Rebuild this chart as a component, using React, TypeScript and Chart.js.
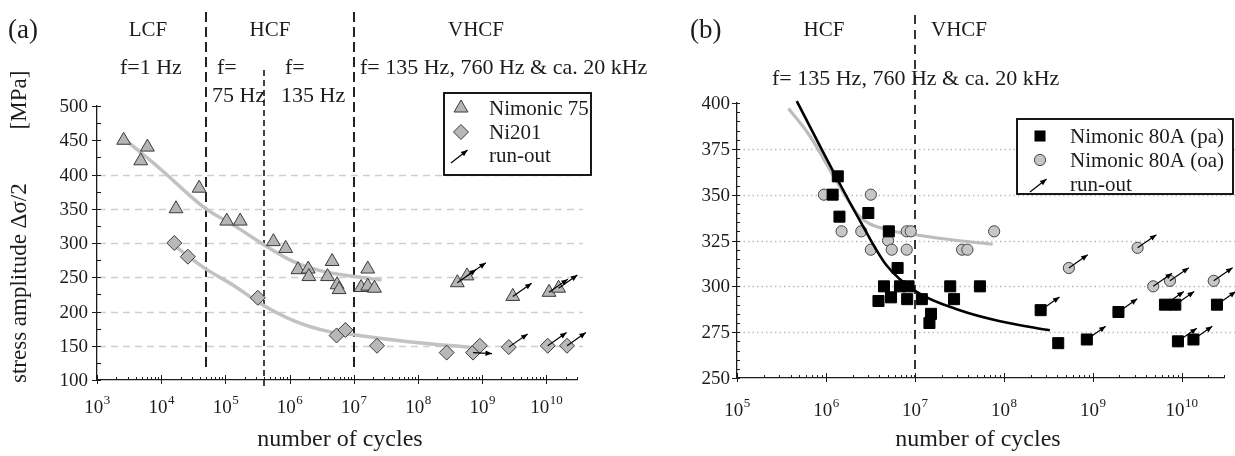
import React, { useEffect, useRef } from "react";
import { Chart, registerables } from "chart.js";

Chart.register(...registerables);

const FONT = '"Liberation Serif", "Times New Roman", "DejaVu Serif", serif';

// ================= Panel (a): Nimonic 75 and Ni201 =================
const A_N75_CYCLES = [2.6e3, 4.8e3, 6.1e3, 1.7e4, 3.9e4, 1.05e5, 1.7e5, 5.6e5, 8.7e5, 1.35e6, 1.95e6, 2.0e6, 3.9e6, 4.6e6, 5.5e6, 5.9e6, 1.3e7, 1.65e7, 1.65e7, 2.1e7, 4.1e8, 5.8e8, 3.0e9, 1.1e10, 1.55e10];
const A_N75_STRESS = [450, 420, 440, 350, 380, 332, 332, 302, 292, 261, 262, 251, 251, 273, 239, 232, 235, 262, 237, 234, 242, 252, 222, 228, 234];
const A_N75_RUNOUT = [0, 0, 0, 0, 0, 0, 0, 0, 0, 0, 0, 0, 0, 0, 0, 0, 0, 0, 0, 0, 1, 1, 1, 1, 1];

const A_NI201_CYCLES = [1.6e4, 2.6e4, 3.2e5, 5.4e6, 7.4e6, 2.3e7, 2.8e8, 7.2e8, 9.2e8, 2.6e9, 1.05e10, 2.1e10];
const A_NI201_STRESS = [300, 280, 220, 165, 173, 150, 140, 140, 150, 148, 150, 150];
const A_NI201_RUNOUT = [0, 0, 0, 0, 0, 0, 0, 2, 0, 1, 1, 1];

const A_N75_FIT_CYCLES = [2.9e3, 1e4, 4.8e4, 1.4e5, 4.2e5, 1.2e6, 3.2e6, 1.05e7, 2.7e7];
const A_N75_FIT_STRESS = [449, 407, 351, 325, 296, 272, 259, 251, 246];
const A_NI201_FIT_CYCLES = [1.65e4, 4.8e4, 1.4e5, 3.6e5, 1.2e6, 4e6, 1e7, 7e7, 7.8e8];
const A_NI201_FIT_STRESS = [295, 263, 237, 211, 186, 171, 166, 156, 147];

const A_REGION_BOUNDS = [5e4, 4e5, 1e7];
const A_X_DECADES = [3, 4, 5, 6, 7, 8, 9, 10];
const A_Y_LABELS = [100, 150, 200, 250, 300, 350, 400, 450, 500];
const A_Y_GRID = [150, 200, 250, 300, 350, 400];
const A_LEGEND = ["Nimonic 75", "Ni201", "run-out"];

// ================= Panel (b): Nimonic 80A =================
const B_PA_CYCLES = [1.19e6, 1.36e6, 1.42e6, 3.0e6, 5.1e6, 6.4e6, 4.5e6, 3.9e6, 5.4e6, 6.8e6, 8.5e6, 8.2e6, 1.2e7, 1.52e7, 1.46e7, 2.5e7, 2.76e7, 5.4e7, 2.6e8, 4.1e8, 8.6e8, 1.95e9, 6.5e9, 8.5e9, 9.1e9, 1.36e10, 2.5e10];
const B_PA_STRESS = [350, 360, 338, 340, 330, 310, 300, 292, 294, 300, 300, 293, 293, 285, 280, 300, 293, 300, 287, 269, 271, 286, 290, 290, 270, 271, 290];
const B_PA_RUNOUT = [0, 0, 0, 0, 0, 0, 0, 0, 0, 0, 0, 0, 0, 0, 0, 0, 0, 0, 1, 0, 1, 1, 1, 1, 1, 1, 1];

const B_OA_CYCLES = [9.5e5, 1.5e6, 3.2e6, 2.5e6, 3.2e6, 5.0e6, 5.5e6, 8.1e6, 8.1e6, 9.0e6, 3.4e7, 3.9e7, 7.8e7, 5.4e8, 3.2e9, 4.8e9, 7.4e9, 2.3e10];
const B_OA_STRESS = [350, 330, 350, 330, 320, 325, 320, 320, 330, 330, 320, 320, 330, 310, 321, 300, 303, 303];
const B_OA_RUNOUT = [0, 0, 0, 0, 0, 0, 0, 0, 0, 0, 0, 0, 0, 1, 1, 1, 1, 1];

const B_PA_FIT_CYCLES = [4.7e5, 1.36e6, 2.4e6, 4.8e6, 1.05e7, 3.2e7, 9.1e7, 3.3e8];
const B_PA_FIT_STRESS = [401, 358, 336, 311.5, 297, 287, 281, 276];
const B_OA_FIT_CYCLES = [3.8e5, 6.6e5, 1.45e6, 2.4e6, 4.8e6, 1.05e7, 3e7, 7.5e7];
const B_OA_FIT_STRESS = [397, 382, 354, 338, 331, 328, 325, 323];

const B_REGION_BOUNDS = [1e7];
const B_X_DECADES = [5, 6, 7, 8, 9, 10];
const B_Y_LABELS = [250, 275, 300, 325, 350, 375, 400];
const B_Y_GRID = [275, 300, 325, 350, 375];
const B_LEGEND = ["Nimonic 80A (pa)", "Nimonic 80A (oa)", "run-out"];

// ================= styles =================
const TRI = { fill: "#b5b5b5", stroke: "#3a3a3a", r: 8 };
const DIA = { fill: "#b8b8b8", stroke: "#3a3a3a", r: 7.5 };
const SQR = { fill: "#000000", stroke: "#000000", r: 7.8 };
const CIR = { fill: "#c6c6c6", stroke: "#444444", r: 5.6 };
const INK = "#1c1c1c";

const zip = (xs: number[], ys: number[]) => xs.map((x, i) => ({ x, y: ys[i] }));

type Mark = "triangle" | "diamond" | "square" | "circle" | "arrow";
type TextItem = { text: string; x: number; y: number; size: number; align: CanvasTextAlign; rotate?: boolean };
type Region = { v: number; top: number; bottom: number; dash: number[]; width: number };
type Spec = {
  ox: number;
  xDecades: number[];
  xMax: number;
  xLabelBase: number;
  yLabels: number[];
  yMinor: number[];
  yMinorIn: number;
  yLabelGap: number;
  grid: number[];
  gridColor: string;
  gridDash: number[];
  gridWidth: number;
  gridRight: number;
  regions: Region[];
  texts: TextItem[];
  legend: { box: [number, number, number, number]; marks: Mark[]; labels: string[]; rowY: number[]; markX: number; textX: number; size: number };
  runouts: { ds: number; flags: number[] }[];
};

function drawArrow(ctx: CanvasRenderingContext2D, x: number, y: number, deg: number, len: number) {
  const a = (deg * Math.PI) / 180;
  const ex = x + Math.cos(a) * len;
  const ey = y - Math.sin(a) * len;
  ctx.save();
  ctx.setLineDash([]);
  ctx.strokeStyle = "#000";
  ctx.fillStyle = "#000";
  ctx.lineWidth = 1.2;
  ctx.beginPath();
  ctx.moveTo(x, y);
  ctx.lineTo(ex, ey);
  ctx.stroke();
  const hl = 6.5;
  const hw = 2.7;
  const bx = ex - Math.cos(a) * hl;
  const by = ey + Math.sin(a) * hl;
  const px = Math.sin(a) * hw;
  const py = Math.cos(a) * hw;
  ctx.beginPath();
  ctx.moveTo(ex, ey);
  ctx.lineTo(bx + px, by + py);
  ctx.lineTo(bx - px, by - py);
  ctx.closePath();
  ctx.fill();
  ctx.restore();
}

function drawMark(ctx: CanvasRenderingContext2D, kind: Mark, x: number, y: number) {
  ctx.save();
  ctx.setLineDash([]);
  ctx.lineWidth = 1;
  if (kind === "triangle") {
    const r = TRI.r;
    ctx.beginPath();
    ctx.moveTo(x, y - r);
    ctx.lineTo(x + r * 0.866, y + r * 0.5);
    ctx.lineTo(x - r * 0.866, y + r * 0.5);
    ctx.closePath();
    ctx.fillStyle = TRI.fill;
    ctx.fill();
    ctx.strokeStyle = TRI.stroke;
    ctx.stroke();
  } else if (kind === "diamond") {
    const r = DIA.r;
    ctx.beginPath();
    ctx.moveTo(x, y - r);
    ctx.lineTo(x + r, y);
    ctx.lineTo(x, y + r);
    ctx.lineTo(x - r, y);
    ctx.closePath();
    ctx.fillStyle = DIA.fill;
    ctx.fill();
    ctx.strokeStyle = DIA.stroke;
    ctx.stroke();
  } else if (kind === "square") {
    const s = SQR.r * Math.SQRT2;
    ctx.fillStyle = SQR.fill;
    ctx.fillRect(x - s / 2, y - s / 2, s, s);
  } else if (kind === "circle") {
    ctx.beginPath();
    ctx.arc(x, y, CIR.r, 0, Math.PI * 2);
    ctx.fillStyle = CIR.fill;
    ctx.fill();
    ctx.strokeStyle = CIR.stroke;
    ctx.stroke();
  } else {
    drawArrow(ctx, x - 10, y + 8, 38, 21);
  }
  ctx.restore();
}

function makeDecor(spec: Spec) {
  return {
    id: "decor",
    beforeDatasetsDraw(chart: any) {
      const { ctx, chartArea, scales } = chart;
      const x = scales.x;
      const y = scales.y;
      ctx.save();
      ctx.strokeStyle = spec.gridColor;
      ctx.lineWidth = spec.gridWidth;
      ctx.setLineDash(spec.gridDash);
      for (const v of spec.grid) {
        const py = Math.round(y.getPixelForValue(v)) + 0.5;
        ctx.beginPath();
        ctx.moveTo(chartArea.left + 2, py);
        ctx.lineTo(spec.gridRight - spec.ox, py);
        ctx.stroke();
      }
      ctx.strokeStyle = "#222";
      for (const r of spec.regions) {
        const px = Math.round(x.getPixelForValue(r.v));
        ctx.setLineDash(r.dash);
        ctx.lineWidth = r.width;
        ctx.beginPath();
        ctx.moveTo(px, r.top);
        ctx.lineTo(px, r.bottom);
        ctx.stroke();
      }
      ctx.restore();
    },
    afterDatasetsDraw(chart: any) {
      const { ctx } = chart;
      for (const ro of spec.runouts) {
        const meta = chart.getDatasetMeta(ro.ds);
        ro.flags.forEach((f, i) => {
          if (!f) return;
          const el = meta.data[i];
          if (f === 1) drawArrow(ctx, el.x, el.y, 35, 23);
          else drawArrow(ctx, el.x, el.y, -3, 19);
        });
      }
    },
    afterDraw(chart: any) {
      const { ctx, chartArea, scales } = chart;
      const x = scales.x;
      const y = scales.y;
      const bottom = chartArea.bottom;
      const left = chartArea.left;
      ctx.save();
      ctx.setLineDash([]);
      ctx.strokeStyle = INK;
      ctx.fillStyle = INK;
      ctx.lineWidth = 1;
      // x ticks
      for (const d of spec.xDecades) {
        for (let k = 1; k <= 9; k++) {
          const v = k * Math.pow(10, d);
          if (v > spec.xMax) break;
          const px = Math.round(x.getPixelForValue(v)) + 0.5;
          ctx.beginPath();
          if (k === 1) {
            ctx.moveTo(px, bottom - 5);
            ctx.lineTo(px, bottom + 4);
          } else {
            ctx.moveTo(px, bottom - 3);
            ctx.lineTo(px, bottom);
          }
          ctx.stroke();
        }
      }
      // x labels 10^n
      ctx.textBaseline = "alphabetic";
      ctx.textAlign = "left";
      for (const d of spec.xDecades) {
        const px = x.getPixelForValue(Math.pow(10, d));
        ctx.font = `19px ${FONT}`;
        const w1 = ctx.measureText("10").width;
        ctx.font = `13px ${FONT}`;
        const w2 = ctx.measureText(String(d)).width;
        const sx = px - (w1 + w2) / 2;
        ctx.font = `19px ${FONT}`;
        ctx.fillText("10", sx, spec.xLabelBase);
        ctx.font = `13px ${FONT}`;
        ctx.fillText(String(d), sx + w1 + 0.5, spec.xLabelBase - 9);
      }
      // y ticks
      for (const v of spec.yMinor) {
        const py = Math.round(y.getPixelForValue(v)) + 0.5;
        ctx.beginPath();
        ctx.moveTo(left, py);
        ctx.lineTo(left + spec.yMinorIn, py);
        ctx.stroke();
      }
      ctx.font = `19px ${FONT}`;
      ctx.textAlign = "right";
      ctx.textBaseline = "middle";
      for (const v of spec.yLabels) {
        const py = Math.round(y.getPixelForValue(v)) + 0.5;
        ctx.beginPath();
        ctx.moveTo(left - 5, py);
        ctx.lineTo(left, py);
        ctx.stroke();
        ctx.fillText(String(v), left - spec.yLabelGap, py + 1);
      }
      // legend
      const L = spec.legend;
      const [bx1, by1, bx2, by2] = L.box;
      ctx.fillStyle = "#fff";
      ctx.fillRect(bx1 - spec.ox, by1, bx2 - bx1, by2 - by1);
      ctx.strokeStyle = "#000";
      ctx.lineWidth = 1.8;
      ctx.strokeRect(bx1 - spec.ox, by1, bx2 - bx1, by2 - by1);
      ctx.fillStyle = INK;
      ctx.font = `${L.size}px ${FONT}`;
      ctx.textAlign = "left";
      ctx.textBaseline = "middle";
      L.labels.forEach((lab, i) => {
        drawMark(ctx, L.marks[i], L.markX - spec.ox, L.rowY[i]);
        ctx.fillStyle = INK;
        ctx.fillText(lab, L.textX - spec.ox, L.rowY[i] + 1);
      });
      // free texts
      for (const t of spec.texts) {
        ctx.font = `${t.size}px ${FONT}`;
        ctx.fillStyle = INK;
        ctx.textAlign = t.align;
        ctx.textBaseline = "middle";
        if (t.rotate) {
          ctx.save();
          ctx.translate(t.x - spec.ox, t.y);
          ctx.rotate(-Math.PI / 2);
          ctx.fillText(t.text, 0, 0);
          ctx.restore();
        } else {
          ctx.fillText(t.text, t.x - spec.ox, t.y);
        }
      }
      ctx.restore();
    },
  };
}

function steps(from: number, to: number, step: number) {
  const out: number[] = [];
  for (let v = from; v <= to + 1e-9; v += step) out.push(v);
  return out;
}

function pointSet(label: string, xs: number[], ys: number[], style: string, st: { fill: string; stroke: string; r: number }, order: number) {
  return {
    label,
    data: zip(xs, ys),
    showLine: false,
    pointStyle: style,
    pointRadius: st.r,
    pointBackgroundColor: st.fill,
    pointBorderColor: st.stroke,
    pointBorderWidth: 1,
    clip: false,
    order,
  };
}

function fitSet(label: string, xs: number[], ys: number[], color: string, width: number, order: number) {
  return {
    label,
    data: zip(xs, ys),
    showLine: true,
    borderColor: color,
    borderWidth: width,
    pointRadius: 0,
    cubicInterpolationMode: "monotone",
    fill: false,
    clip: false,
    order,
  };
}

function baseOptions(xMin: number, xMax: number, yMin: number, yMax: number, yWidth: number, xHeight: number, padding: any) {
  return {
    responsive: false,
    animation: false,
    events: [],
    layout: { padding },
    plugins: { legend: { display: false }, tooltip: { enabled: false } },
    scales: {
      x: {
        type: "logarithmic",
        min: xMin,
        max: xMax,
        ticks: { display: false },
        grid: { display: false },
        border: { display: true, color: INK, width: 1.3 },
        afterFit: (s: any) => {
          s.height = xHeight;
        },
      },
      y: {
        type: "linear",
        min: yMin,
        max: yMax,
        ticks: { display: false },
        grid: { display: false },
        border: { display: true, color: INK, width: 1.3 },
        afterFit: (s: any) => {
          s.width = yWidth;
        },
      },
    },
  };
}

const A_W = 660;
const B_LEFT = 620;
const B_W = 615;
const H = 456;

function configA() {
  const spec: Spec = {
    ox: 0,
    xDecades: A_X_DECADES,
    xMax: 3e10,
    xLabelBase: 413,
    yLabels: A_Y_LABELS,
    yMinor: steps(100, 500, 25),
    yMinorIn: 4,
    yLabelGap: 9,
    grid: A_Y_GRID,
    gridColor: "#cfcfcf",
    gridDash: [7, 5],
    gridWidth: 1.4,
    gridRight: 583,
    regions: [
      { v: A_REGION_BOUNDS[0], top: 12, bottom: 368, dash: [10, 5], width: 2 },
      { v: A_REGION_BOUNDS[1], top: 70, bottom: 388, dash: [6, 4], width: 1.7 },
      { v: A_REGION_BOUNDS[2], top: 12, bottom: 368, dash: [10, 5], width: 2 },
    ],
    texts: [
      { text: "(a)", x: 8, y: 31, size: 27, align: "left" },
      { text: "LCF", x: 148, y: 30, size: 21, align: "center" },
      { text: "HCF", x: 270, y: 30, size: 21, align: "center" },
      { text: "VHCF", x: 476, y: 30, size: 21, align: "center" },
      { text: "f=1 Hz", x: 120, y: 68, size: 22, align: "left" },
      { text: "f=", x: 217, y: 68, size: 22, align: "left" },
      { text: "75 Hz", x: 212, y: 96, size: 22, align: "left" },
      { text: "f=", x: 285, y: 68, size: 22, align: "left" },
      { text: "135 Hz", x: 281, y: 96, size: 22, align: "left" },
      { text: "f= 135 Hz, 760 Hz & ca. 20 kHz", x: 360, y: 68, size: 22, align: "left" },
      { text: "number of cycles", x: 340, y: 440, size: 24, align: "center" },
      { text: "stress amplitude Δσ/2", x: 20, y: 383, size: 23, align: "left", rotate: true },
      { text: "[MPa]", x: 20, y: 100, size: 23, align: "center", rotate: true },
    ],
    legend: { box: [444, 93, 591, 175], marks: ["triangle", "diamond", "arrow"], labels: A_LEGEND, rowY: [108, 132, 155], markX: 461, textX: 489, size: 21 },
    runouts: [
      { ds: 0, flags: A_N75_RUNOUT },
      { ds: 1, flags: A_NI201_RUNOUT },
    ],
  };
  return {
    type: "scatter",
    data: {
      datasets: [
        pointSet("Nimonic 75", A_N75_CYCLES, A_N75_STRESS, "triangle", TRI, 1),
        pointSet("Ni201", A_NI201_CYCLES, A_NI201_STRESS, "rectRot", DIA, 1),
        fitSet("Nimonic 75 fit", A_N75_FIT_CYCLES, A_N75_FIT_STRESS, "#c2c2c2", 3.5, 3),
        fitSet("Ni201 fit", A_NI201_FIT_CYCLES, A_NI201_FIT_STRESS, "#c2c2c2", 3.5, 3),
      ],
    },
    options: baseOptions(1e3, 3e10, 100, 500, 97, H - 380, { left: 0, top: 106, right: A_W - 577, bottom: 0 }),
    plugins: [makeDecor(spec)],
  };
}

function configB() {
  const spec: Spec = {
    ox: B_LEFT,
    xDecades: B_X_DECADES,
    xMax: 3e10,
    xLabelBase: 416,
    yLabels: B_Y_LABELS,
    yMinor: steps(250, 400, 5),
    yMinorIn: 3,
    yLabelGap: 7,
    grid: B_Y_GRID,
    gridColor: "#bdbdbd",
    gridDash: [1.5, 3],
    gridWidth: 1.5,
    gridRight: 1235,
    regions: [{ v: B_REGION_BOUNDS[0], top: 15, bottom: 378, dash: [9, 6], width: 1.8 }],
    texts: [
      { text: "(b)", x: 690, y: 31, size: 27, align: "left" },
      { text: "HCF", x: 824, y: 30, size: 21, align: "center" },
      { text: "VHCF", x: 959, y: 30, size: 21, align: "center" },
      { text: "f= 135 Hz, 760 Hz & ca. 20 kHz", x: 772, y: 79, size: 22, align: "left" },
      { text: "number of cycles", x: 978, y: 440, size: 24, align: "center" },
    ],
    legend: { box: [1017, 119, 1233, 194], marks: ["square", "circle", "arrow"], labels: B_LEGEND, rowY: [136, 160, 184], markX: 1040, textX: 1070, size: 21 },
    runouts: [
      { ds: 0, flags: B_PA_RUNOUT },
      { ds: 1, flags: B_OA_RUNOUT },
    ],
  };
  return {
    type: "scatter",
    data: {
      datasets: [
        pointSet("Nimonic 80A (pa)", B_PA_CYCLES, B_PA_STRESS, "rect", SQR, 2),
        pointSet("Nimonic 80A (oa)", B_OA_CYCLES, B_OA_STRESS, "circle", CIR, 2),
        fitSet("pa fit", B_PA_FIT_CYCLES, B_PA_FIT_STRESS, "#000000", 2.6, 1),
        fitSet("oa fit", B_OA_FIT_CYCLES, B_OA_FIT_STRESS, "#bcbcbc", 3.2, 3),
      ],
    },
    options: baseOptions(1e5, 3e10, 250, 400, 737 - B_LEFT, H - 378, { left: 0, top: 103, right: B_W - (1224 - B_LEFT), bottom: 0 }),
    plugins: [makeDecor(spec)],
  };
}

function Panel({ left, width, make }: { left: number; width: number; make: () => any }) {
  const ref = useRef<HTMLCanvasElement>(null);
  useEffect(() => {
    const chart = new Chart(ref.current as HTMLCanvasElement, make());
    return () => chart.destroy();
  }, [make]);
  return <canvas ref={ref} width={width} height={H} style={{ position: "absolute", left, top: 0, width, height: H }} />;
}

export default function App() {
  return (
    <div style={{ position: "absolute", left: 0, top: 0, width: 1235, height: H, background: "#fff", overflow: "hidden" }}>
      <Panel left={0} width={A_W} make={configA} />
      <Panel left={B_LEFT} width={B_W} make={configB} />
    </div>
  );
}
